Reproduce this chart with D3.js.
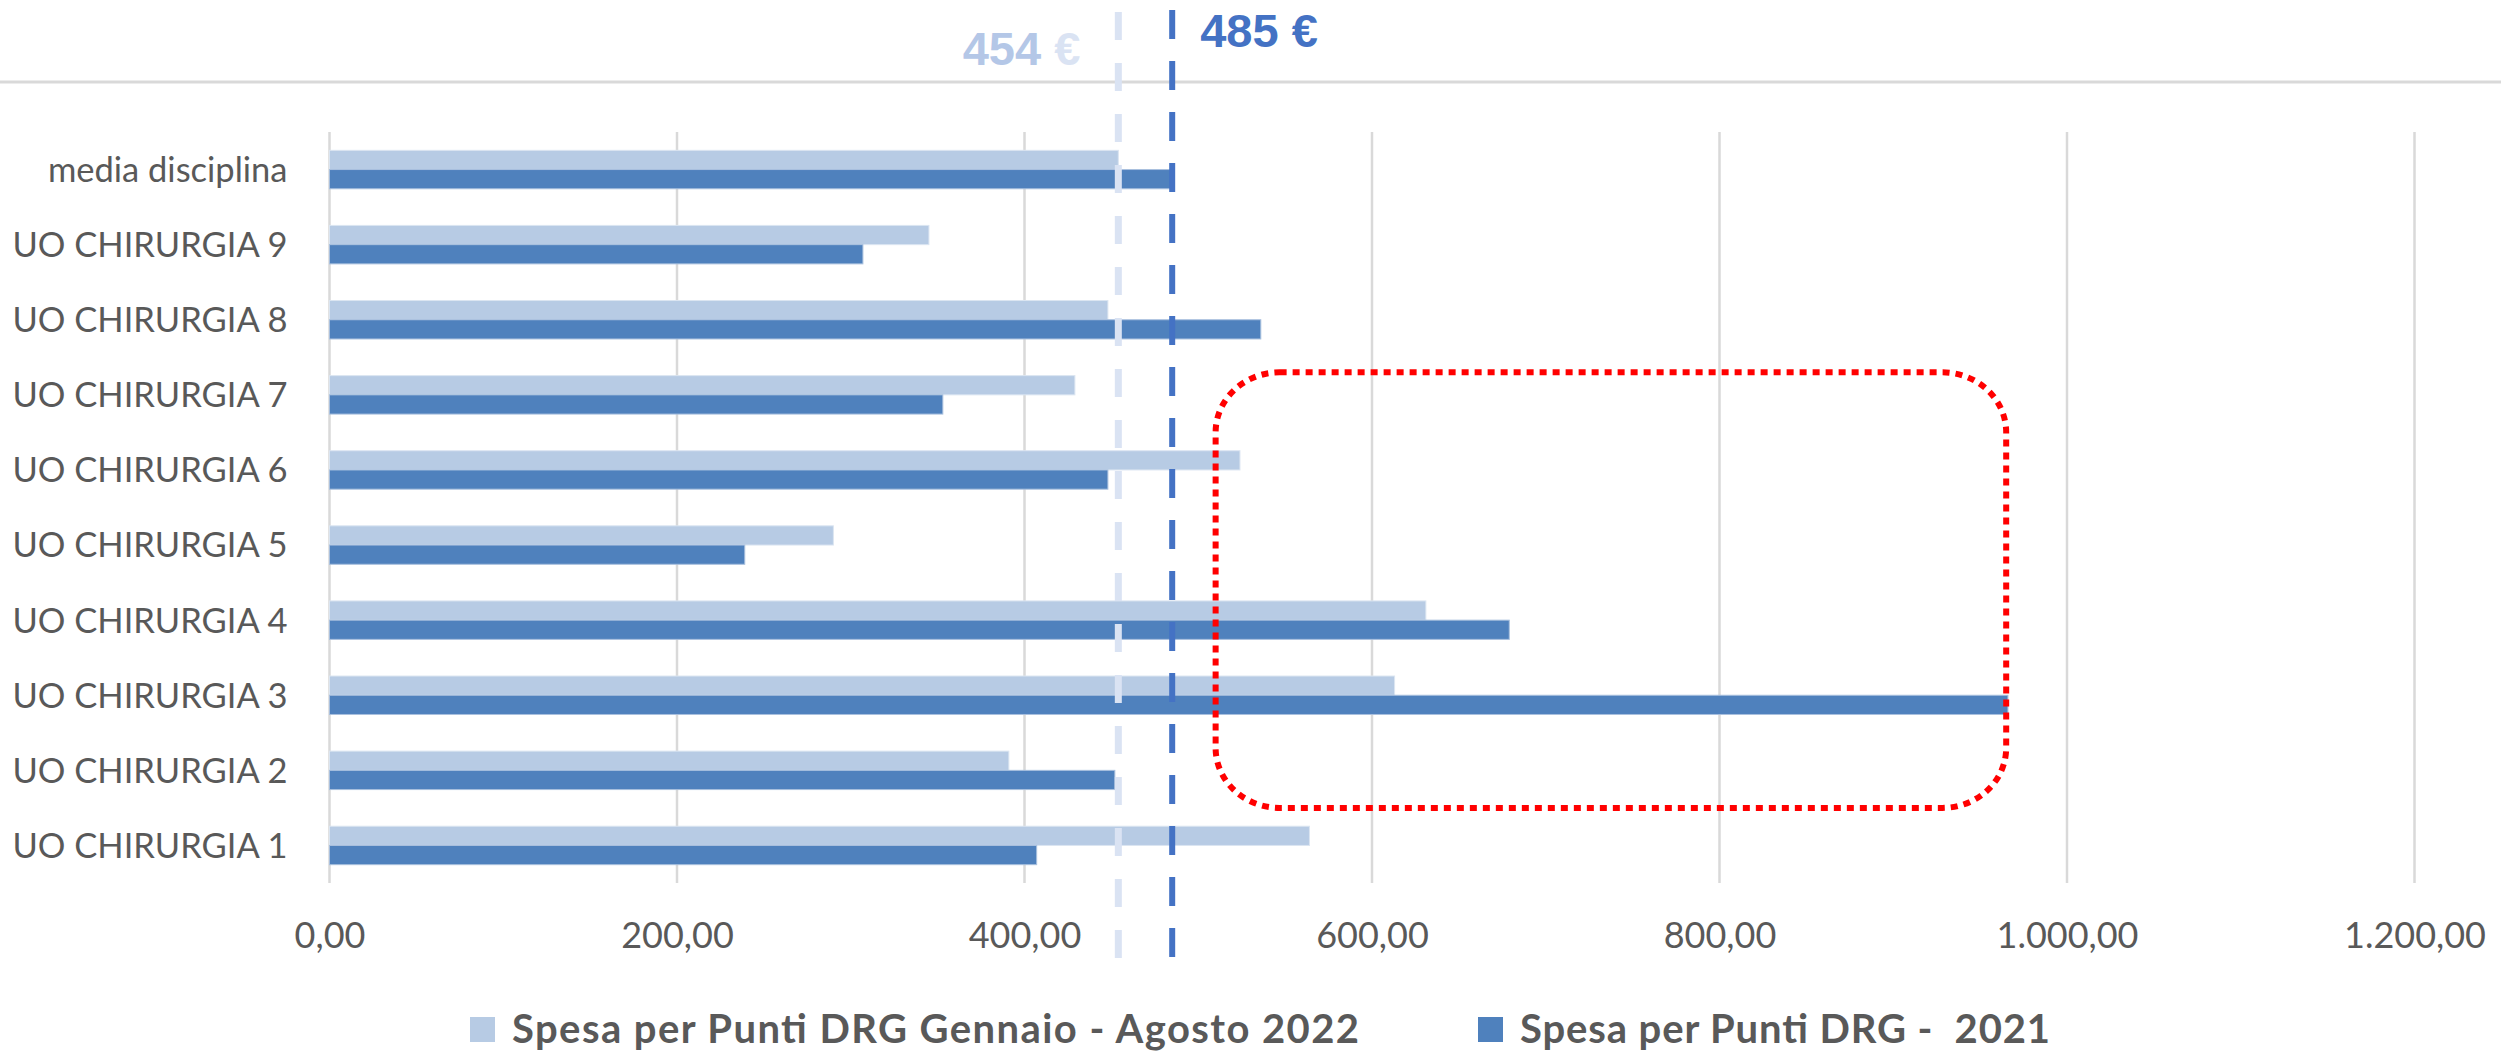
<!DOCTYPE html>
<html>
<head>
<meta charset="utf-8">
<script src="https://cdn.jsdelivr.net/npm/d3@7"></script>
<style>
  html, body { margin: 0; padding: 0; background: #ffffff; }
  svg { display: block; }
</style>
</head>
<body>
<svg id="chart" width="2501" height="1054"></svg>
<script>
// Spesa per Punti DRG by unit, two periods
const categories = [
  "media disciplina",
  "UO CHIRURGIA 9",
  "UO CHIRURGIA 8",
  "UO CHIRURGIA 7",
  "UO CHIRURGIA 6",
  "UO CHIRURGIA 5",
  "UO CHIRURGIA 4",
  "UO CHIRURGIA 3",
  "UO CHIRURGIA 2",
  "UO CHIRURGIA 1"
];
const spesa2022 = [454, 345, 448, 429, 524, 290, 631, 613, 391, 564];
const spesa2021 = [485, 307, 536, 353, 448, 239, 679, 966, 452, 407];
const seriesNames = ["Spesa per Punti DRG Gennaio - Agosto 2022", "Spesa per Punti DRG -  2021"];
const xTickValues = [0, 200, 400, 600, 800, 1000, 1200];
const mediaValues = [454, 485];           // reference averages (2022, 2021)
const highlightRange = [510, 965];        // value span of the highlighted area
const highlightRows = ["UO CHIRURGIA 7", "UO CHIRURGIA 2"];

const colorLight = "#b7cbe4";
const colorDark = "#4f81bd";
const textGray = "#595959";
const gridGray = "#d9d9d9";

const svg = d3.select("#chart");

const margin = { left: 329.5, right: 2414.5, top: 132, bottom: 883 };

const x = d3.scaleLinear().domain([0, 1200]).range([margin.left, margin.right]);
const y = d3.scaleBand().domain(categories).range([margin.top, margin.bottom]).paddingInner(0).paddingOuter(0);
const bw = y.bandwidth();
const barH = bw * 0.256;

// locale with Italian number format
const it = d3.formatLocale({ decimal: ",", thousands: ".", grouping: [3], currency: ["", " €"] });
const fmtTick = it.format(",.2f");

// top separator line
svg.append("line")
  .attr("x1", 0).attr("x2", 2501).attr("y1", 82).attr("y2", 82)
  .attr("stroke", gridGray).attr("stroke-width", 3);

// vertical gridlines
svg.append("g")
  .selectAll("line")
  .data(xTickValues)
  .join("line")
  .attr("x1", d => x(d)).attr("x2", d => x(d))
  .attr("y1", margin.top).attr("y2", margin.bottom)
  .attr("stroke", gridGray).attr("stroke-width", 2.5);

// x axis tick labels
const xAxis = d3.axisBottom(x).tickValues(xTickValues).tickFormat(fmtTick).tickSize(0).tickPadding(0);
const gx = svg.append("g")
  .attr("transform", `translate(0, ${margin.bottom})`)
  .call(xAxis);
gx.select(".domain").remove();
gx.selectAll("text")
  .attr("dy", null)
  .attr("y", 65)
  .attr("fill", textGray)
  .attr("font-family", "Lato, 'Open Sans', sans-serif")
  .attr("font-size", 36);

// y axis category labels
const yAxis = d3.axisLeft(y).tickSize(0).tickPadding(0);
const gy = svg.append("g")
  .attr("transform", `translate(${margin.left - 42}, 0)`)
  .call(yAxis);
gy.select(".domain").remove();
gy.selectAll("text")
  .attr("dy", "0.36em")
  .attr("fill", textGray)
  .attr("font-family", "Lato, 'Open Sans', sans-serif")
  .attr("font-size", 34.5);

// bars
const rows = categories.map((c, i) => ({ c, v22: spesa2022[i], v21: spesa2021[i] }));
const bars = svg.append("g");
bars.selectAll("rect.b22")
  .data(rows)
  .join("rect")
  .attr("class", "b22")
  .attr("x", x(0))
  .attr("y", d => y(d.c) + bw / 2 - barH)
  .attr("width", d => x(d.v22) - x(0))
  .attr("height", barH)
  .attr("fill", colorLight)
  .attr("stroke", "#dbe5f1").attr("stroke-width", 1);
bars.selectAll("rect.b21")
  .data(rows)
  .join("rect")
  .attr("class", "b21")
  .attr("x", x(0))
  .attr("y", d => y(d.c) + bw / 2)
  .attr("width", d => x(d.v21) - x(0))
  .attr("height", barH)
  .attr("fill", colorDark)
  .attr("stroke", "#a9c0de").attr("stroke-width", 1);

// average reference lines
const refStyles = [
  { color: "#dae3f3", top: 12, dash: "28 23", width: 7 },
  { color: "#4472c4", top: 10, dash: "29 22", width: 6 }
];
svg.append("g")
  .selectAll("line")
  .data(mediaValues)
  .join("line")
  .attr("x1", d => x(d)).attr("x2", d => x(d))
  .attr("y1", (d, i) => refStyles[i].top).attr("y2", 962)
  .attr("stroke", (d, i) => refStyles[i].color)
  .attr("stroke-width", (d, i) => refStyles[i].width)
  .attr("stroke-dasharray", (d, i) => refStyles[i].dash);

// average labels
const lbl22 = svg.append("text")
  .attr("x", x(mediaValues[0]) - 38)
  .attr("y", 65)
  .attr("text-anchor", "end")
  .attr("font-family", "'Liberation Sans', Arial, sans-serif")
  .attr("font-weight", "bold")
  .attr("font-size", 47);
lbl22.append("tspan").attr("fill", "#b4c7e7").text(it.format(",d")(mediaValues[0]) + " ");
lbl22.append("tspan").attr("fill", "#dae3f3").text("€");

svg.append("text")
  .attr("x", x(mediaValues[1]) + 28)
  .attr("y", 47)
  .attr("font-family", "'Liberation Sans', Arial, sans-serif")
  .attr("font-weight", "bold")
  .attr("font-size", 47)
  .attr("fill", "#4472c4")
  .text(it.format(",d")(mediaValues[1]) + " €");

// highlighted area
const hTop = y(highlightRows[0]) + bw * 0.2;
const hBottom = y(highlightRows[1]) + bw;
svg.append("rect")
  .attr("x", x(highlightRange[0]))
  .attr("y", hTop)
  .attr("width", x(highlightRange[1]) - x(highlightRange[0]))
  .attr("height", hBottom - hTop)
  .attr("rx", 64).attr("ry", 60)
  .attr("fill", "none")
  .attr("stroke", "#ff0000")
  .attr("stroke-width", 6)
  .attr("stroke-dasharray", "7 6");

// legend
const legendX = [470, 1478];
const legendTextLen = [847, 530];
const legend = svg.append("g");
const items = legend.selectAll("g")
  .data(seriesNames)
  .join("g")
  .attr("transform", (d, i) => `translate(${legendX[i]}, 1017)`);
items.append("rect")
  .attr("width", 25).attr("height", 25)
  .attr("fill", (d, i) => i === 0 ? colorLight : colorDark);
items.append("text")
  .attr("x", 42)
  .attr("y", 26)
  .attr("fill", textGray)
  .attr("font-family", "Lato, 'Open Sans', sans-serif")
  .attr("font-weight", "bold")
  .attr("font-size", 40)
  .attr("textLength", (d, i) => legendTextLen[i])
  .attr("lengthAdjust", "spacing")
  .style("white-space", "pre")
  .text(d => d);
</script>
</body>
</html>
